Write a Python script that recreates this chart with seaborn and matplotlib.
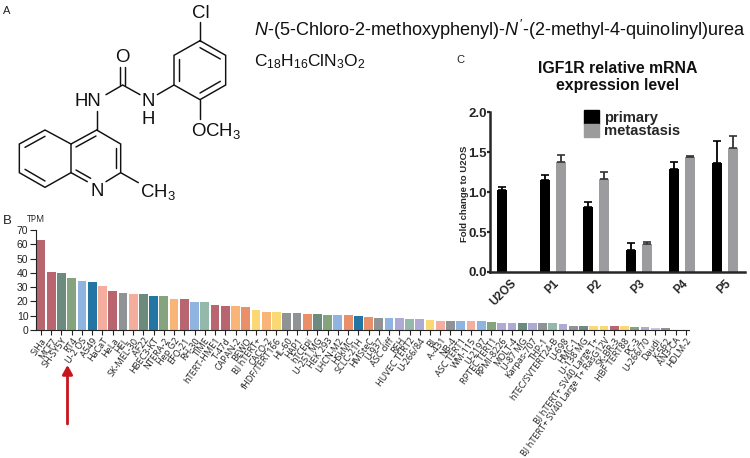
import numpy as np
import pandas as pd
import seaborn as sns
import matplotlib.pyplot as plt
from matplotlib.patches import Patch

cell_lines = ['SiHa', 'MCF7', 'SH-SY5Y', 'RT4', 'U-2 OS', 'A549', 'HaCaT', 'HeLa', 'HEL', 'SK-MEL-30',
              'AF22', 'HBEC3-KT', 'NTERA-2', 'Hep G2', 'EFO-21', 'RH-30', 'TIME', 'hTERT-HME1', 'T-47d',
              'CAPAN-2', 'BEWO', 'BJ hTERT+', 'CACO-2', 'fHDF/TERT166', 'HL-60', 'HAP1', 'hTCEpi',
              'U-251 MG', 'HEK 293', 'LHCN-M2', 'HSkMC', 'SCLC-21H', 'HMSteC', 'U-937', 'ASC diff', 'REH',
              'HUVEC TERT2', 'U-266/84', 'BJ', 'A-431', 'NB-4', 'ASC TERT1', 'WM-115', 'U-2197',
              'RPTEC TERT1', 'RPMI-8226', 'MOLT-4', 'U-87 MG', 'Karpas-707', 'THP-1', 'hTEC/SVTERT24-B',
              'U-698', 'HMC-1', 'U-138 MG', 'BJ hTERT+ SV40 Large T+', 'BJ hTERT+ SV40 Large T+ RasG12V',
              'SK-BR-3', 'HBF TERT88', 'PC-3', 'U-266/70', 'Daudi', 'K-562', 'AN3-CA', 'HDLM-2']
tpm = [63, 40.3, 40, 36.5, 34, 33.5, 31, 27.5, 25.8, 25.3,
       25.2, 24, 24, 22, 22, 19.5, 19.3, 17.2, 17.1,
       16.5, 16, 13.7, 12.9, 12.8, 12.1, 11.9, 11.2,
       10.9, 10.7, 10.7, 10.5, 10, 9.3, 8.6, 8.6, 8.4,
       7.7, 7.5, 7, 6.5, 6.3, 6.3, 6, 6,
       5.8, 4.9, 4.8, 4.8, 4.8, 4.8, 4.8,
       4.2, 2.8, 2.5, 2.8, 2.8,
       2.5, 2.8, 1.9, 1.9, 1.2, 1.2, 0.2, 0.2]

mauve, dkgreen, green, blue, teal = '#b9656f', '#6c8a7e', '#86a37f', '#8fb4df', '#2376a3'
salmon, grey, orange, redor, yellow = '#f5ad9d', '#8f9396', '#f9b578', '#e98f6a', '#fbd876'
mint, lav = '#94b8aa', '#aeaad4'
bar_colors = [mauve, mauve, dkgreen, green, blue, teal, salmon, mauve, grey, salmon,
              dkgreen, teal, green, orange, mauve, blue, mint, mauve, mauve,
              orange, redor, yellow, orange, yellow, grey, grey, redor,
              dkgreen, green, blue, redor, teal, redor, grey, blue, lav,
              mint, lav, yellow, salmon, grey, blue, salmon, blue,
              green, lav, lav, dkgreen, lav, grey, mint,
              lav, grey, dkgreen, yellow, yellow,
              mauve, yellow, green, lav, '#c9c6e2', grey, grey, grey]

samples = ['U2OS', 'P1', 'P2', 'P3', 'P4', 'P5']
primary = [1.02, 1.155, 0.81, 0.27, 1.287, 1.363]
primary_err = [0.04, 0.062, 0.065, 0.09, 0.088, 0.277]
metastasis = [np.nan, 1.38, 1.167, 0.346, 1.44, 1.546]
metastasis_err = [np.nan, 0.08, 0.087, 0.029, 0.01, 0.154]

sns.set_theme(style='ticks')
plt.rcParams['font.family'] = ['Liberation Sans', 'DejaVu Sans']
plt.rcParams['mathtext.fontset'] = 'custom'
plt.rcParams['mathtext.rm'] = 'Liberation Sans'
plt.rcParams['mathtext.it'] = 'Liberation Sans:italic'

W, H = 750, 458
fig = plt.figure(figsize=(W / 100, H / 100), dpi=100)


def px_axes(left, top, right, bottom):
    return fig.add_axes([left / W, 1 - bottom / H, (right - left) / W, (bottom - top) / H])


# panel B
ax_b = px_axes(36, 230, 689, 330)
sns.barplot(x=cell_lines, y=tpm, hue=cell_lines, palette=bar_colors, legend=False, saturation=1,
            width=0.86, linewidth=0, ax=ax_b)
ax_b.set_xlim(-0.49, 63.3)
ax_b.set_ylim(0, 70)
ax_b.set_yticks(range(0, 71, 10))
ax_b.tick_params(axis='y', labelsize=7.5, length=4, width=0.8, pad=1.5, colors='#222222')
ax_b.tick_params(axis='x', length=3.5, width=0.8, pad=1, colors='#222222')
ax_b.set_xticks(range(len(cell_lines)))
ax_b.set_xticklabels(cell_lines, rotation=54, ha='right', va='top', rotation_mode='anchor',
                     fontsize=6.6, family='Open Sans', color='#222222')
ax_b.set_ylabel('')
sns.despine(ax=ax_b)
for s in ['left', 'bottom']:
    ax_b.spines[s].set_linewidth(0.8)
    ax_b.spines[s].set_color('#222222')

# panel C
ax_c = px_axes(490, 112, 745, 272)
long_df = pd.DataFrame({'sample': samples * 2,
                        'group': ['primary'] * 6 + ['metastasis'] * 6,
                        'value': primary + metastasis})
sns.barplot(data=long_df, x='sample', y='value', hue='group', palette=['#000000', '#9c9c9e'],
            saturation=1, width=0.744, gap=0.34, linewidth=0, legend=False, ax=ax_c)
ax_c.set_xlim(-0.465, 5.465)
ax_c.set_ylim(0, 2)
offset = 0.186
idx = np.arange(len(samples))
ax_c.errorbar(idx - offset, primary, yerr=[np.zeros(6), primary_err], fmt='none', ecolor='#000000',
              elinewidth=1.3, capsize=2.8, capthick=1.2)
ax_c.errorbar(idx + offset, metastasis, yerr=[np.zeros(6), metastasis_err], fmt='none', ecolor='#333333',
              elinewidth=1.3, capsize=2.8, capthick=1.2)
ax_c.set_yticks([0, 0.5, 1, 1.5, 2])
ax_c.set_yticklabels(['0.0', '0.5', '1.0', '1.5', '2.0'], fontsize=9.5, fontweight='bold')
ax_c.tick_params(axis='y', length=2, width=1.6, pad=0.5)
ax_c.tick_params(axis='x', length=0, pad=4)
ax_c.set_xticks(idx)
ax_c.set_xticklabels(samples, rotation=45, ha='right', va='top', rotation_mode='anchor',
                     fontsize=8.4, fontweight='bold')
ax_c.set_xlabel('')
ax_c.set_ylabel('Fold change to U2OS', fontsize=6.8, fontweight='bold', labelpad=-1, y=0.49)
sns.despine(ax=ax_c)
for s in ['left', 'bottom']:
    ax_c.spines[s].set_linewidth(1.8)
ax_c.legend(handles=[Patch(color='#000000', label='primary'), Patch(color='#9c9c9e', label='metastasis')],
            loc='upper left', bbox_to_anchor=(0.368, 1.01), frameon=False,
            prop={'weight': 'bold', 'size': 10.6}, handlelength=1.05, handleheight=1.0,
            labelspacing=-0.1, handletextpad=0.3, borderpad=0, borderaxespad=0)
fig.text(618 / W, 1 - 77 / H, 'IGF1R relative mRNA\nexpression level', ha='center', va='center',
         fontsize=11.4, fontweight='bold', linespacing=1.1, color='#111111')

# overlay in pixel coordinates: structure, panel letters, arrow
ov = fig.add_axes([0, 0, 1, 1], zorder=5)
ov.set_xlim(0, W)
ov.set_ylim(H, 0)
ov.axis('off')
ov.patch.set_alpha(0)

bonds = [
    # chlorophenyl ring
    [(600, 122), (677, 166), (677, 255), (600, 299), (522, 255), (522, 166), (600, 122)],
    [(600, 143), (661, 177)], [(661, 244), (600, 279)], [(538, 177), (538, 244)],
    [(600, 122), (600, 65)], [(600, 299), (600, 358)],
    # urea
    [(522, 255), (472, 284)], [(420, 284), (368, 255), (318, 284)],
    [(360, 255), (360, 200)], [(376, 255), (376, 200)],
    [(290, 332), (290, 390)],
    # quinoline
    [(290, 390), (362, 432), (362, 518), (318, 545)], [(262, 545), (213, 518), (213, 432), (290, 390)],
    [(347, 445), (347, 505)], [(228, 441), (288, 408)], [(228, 510), (272, 535)],
    [(213, 432), (135, 390), (58, 432), (58, 518), (135, 562), (213, 518)],
    [(135, 409), (75, 442)], [(75, 508), (135, 543)],
    [(362, 518), (415, 548)],
]
for b in bonds:
    xs, ys = zip(*b)
    ov.plot(np.array(xs) / 3, np.array(ys) / 3, color='#111111', lw=1.05, solid_capstyle='round',
            solid_joinstyle='miter')

atom = dict(fontsize=13.4, color='#111111', va='center')
ov.text(201, 13, 'Cl', ha='center', **atom)
ov.text(122, 57, 'O', ha='center', **atom)
ov.text(75, 101, 'HN', ha='left', **atom)
ov.text(148, 101, 'N', ha='center', **atom)
ov.text(148, 120, 'H', ha='center', **atom)
ov.text(191, 131, 'OCH$_3$', ha='left', **atom)
ov.text(97, 191, 'N', ha='center', **atom)
ov.text(140, 192, 'CH$_3$', ha='left', **atom)

ov.text(254, 30, r"$\mathit{N}$-(5-Chloro-2-methoxyphenyl)-$\mathit{N'}$-(2-methyl-4-quinolinyl)urea",
        fontsize=13.1, va='center', ha='left', color='#111111')
ov.text(254, 62, 'C$_{18}$H$_{16}$ClN$_3$O$_2$', fontsize=12.5, va='center', ha='left', color='#111111')

ov.text(3, 11, 'A', fontsize=8, va='center', color='#222222')
ov.text(3, 221, 'B', fontsize=9.5, va='center', color='#222222')
ov.text(456, 60, 'C', fontsize=8, va='center', color='#222222')
ov.text(27, 219, 'TPM', fontsize=6.3, family='Open Sans', va='center', color='#222222')

ov.annotate('', xy=(67.5, 365), xytext=(67.5, 424),
            arrowprops=dict(arrowstyle='-|>,head_length=0.45,head_width=0.25', color='#c8141c', lw=2.0,
                            shrinkA=0, shrinkB=0))

fig.savefig('out.png', dpi=100)
